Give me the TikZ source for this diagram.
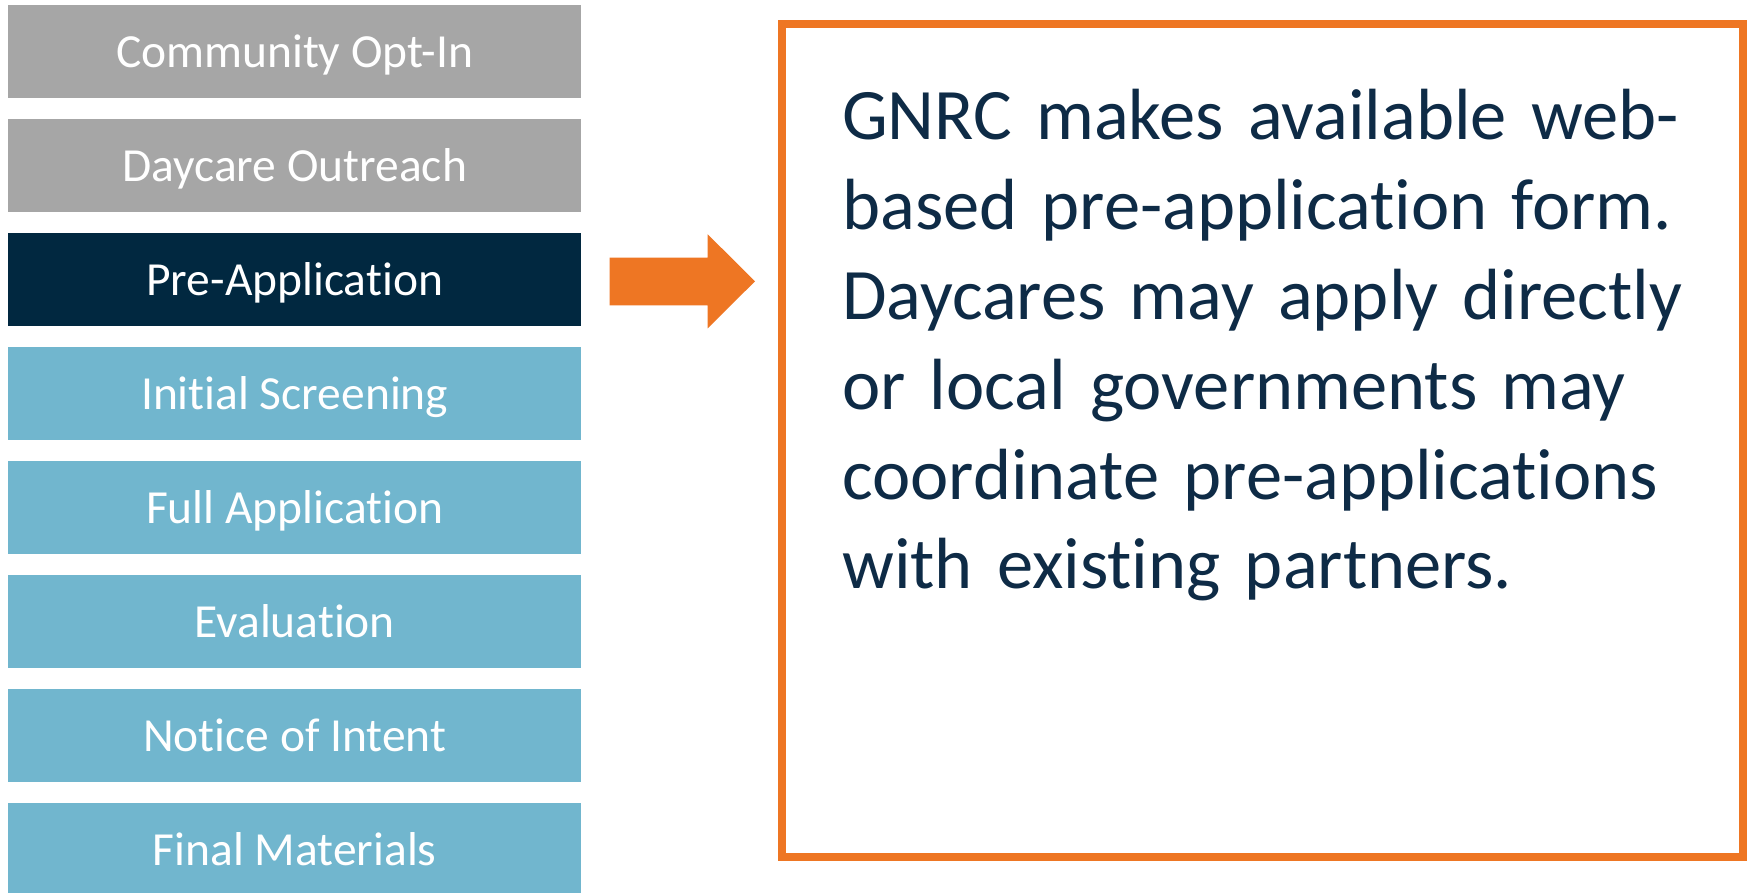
\documentclass[tikz,border=0pt]{standalone}
\usepackage{fontspec}
\usetikzlibrary{calc}
\setmainfont[RawFeature={-liga;-clig;-dlig}]{Carlito}
\definecolor{stepgray}{HTML}{A6A6A6}
\definecolor{stepnavy}{HTML}{012840}
\definecolor{stepblue}{HTML}{71B6CE}
\definecolor{accentorange}{HTML}{EE7623}
\definecolor{desctext}{HTML}{0E2B46}
\begin{document}
\begin{tikzpicture}[x=1pt,y=-1pt,
  stepbox/.style={draw=none, minimum width=573pt, minimum height=93pt, inner sep=0pt, anchor=north west},
  steplabel/.style={anchor=base, inner sep=0pt, text=white, font=\fontsize{47.5}{57}\selectfont},
  descbox/.style={draw=accentorange, line width=8pt},
]
\useasboundingbox (0,0) rectangle (1747,893);
\fill[white] (0,0) rectangle (1747,893);
% step boxes
\foreach \i/\txt/\col in {0/Community Opt-In/stepgray,1/Daycare Outreach/stepgray,2/Pre-Application/stepnavy,3/Initial Screening/stepblue,4/Full Application/stepblue,5/Evaluation/stepblue,6/Notice of Intent/stepblue,7/Final Materials/stepblue}{
  \node[stepbox, fill=\col] (s\i) at (8,{4.7+114*\i}) {};
  \node[steplabel] (l\i) at ($(s\i.center)+(0,16.5)$) {\txt};
}
% arrow
\fill[accentorange] (609.5,257.7) -- (707.7,257.7) -- (707.7,234.3) -- (755,281.3) -- (707.7,328.3) -- (707.7,305.3) -- (609.5,305.3) -- cycle;
% description box
\draw[descbox] (782.3,24) rectangle (1743,857);
\node[anchor=base west, inner sep=0pt, text width=900pt, align=left, text=desctext, font=\fontsize{72.5}{89.8}\selectfont] (desc) at (842,140) {GNRC makes available web-\\based pre-application form.\\Daycares may apply directly\\or local governments may\\coordinate pre-applications\\with existing partners.};
\end{tikzpicture}
\end{document}
